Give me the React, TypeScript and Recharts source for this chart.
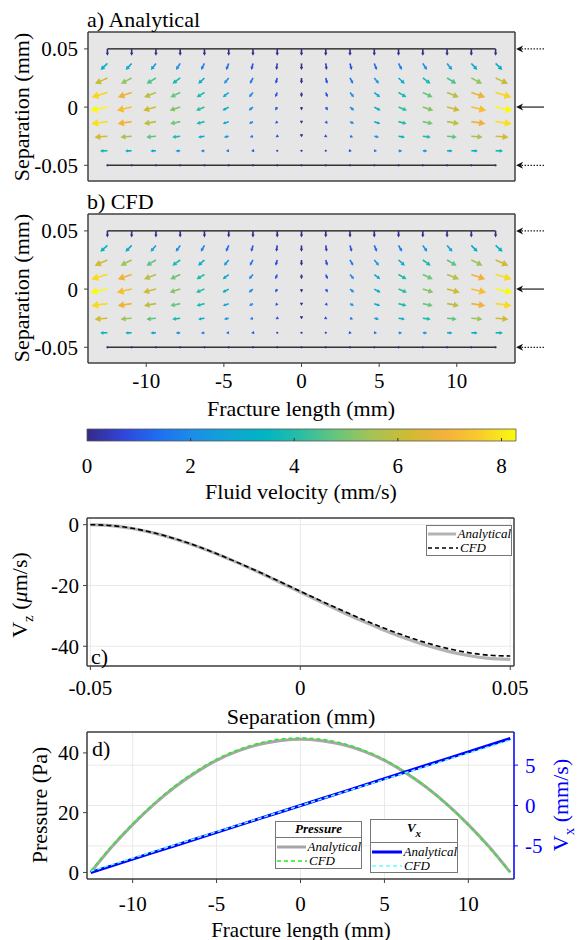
import React from 'react';
import {
  ComposedChart,
  LineChart,
  Line,
  Scatter,
  XAxis,
  YAxis,
  CartesianGrid,
  ReferenceLine,
  ReferenceArea,
  Legend,
} from 'recharts';

const FONT = "'Liberation Serif', Tinos, 'Times New Roman', 'DejaVu Serif', 'Noto Serif', serif";
const W = 577;

// ---- a) / b) velocity field on the fracture grid ----
const gridX = [
  -12.5, -10.9375, -9.375, -7.8125, -6.25, -4.6875, -3.125, -1.5625, 0,
  1.5625, 3.125, 4.6875, 6.25, 7.8125, 9.375, 10.9375, 12.5,
];
const gridY = [0.05, 0.0375, 0.025, 0.0125, 0, -0.0125, -0.025, -0.0375, -0.05];
// centre-line Vx (mm/s) at each column
const centerVx = [
  -8.3, -7.25, -6.2, -5.15, -4.12, -3.09, -2.06, -1.03, 0,
  1.03, 2.06, 3.09, 4.12, 5.15, 6.2, 7.25, 8.28,
];
// Vx across the aperture, relative to the centre line
const profileAnalytical = [0, 0.4, 0.73, 0.93, 1, 0.95, 0.76, 0.44, 0];
const profileCfd = [0, 0.42, 0.75, 0.94, 1, 0.94, 0.75, 0.43, 0];
// Vz (um/s) at each row
const vzRowAnalytical = [-44.3, -42.4, -37.4, -30.3, -22.2, -14.0, -6.9, -1.9, 0];
const vzRowCfd = [-43.2, -41.6, -36.8, -29.9, -22.0, -13.9, -6.9, -1.9, 0];
const wallY = [0.05, -0.05];
const sideArrows = [
  { y: 0.05, dashed: true },
  { y: 0, dashed: false },
  { y: -0.05, dashed: true },
];
const quiverTicksX = [-10, -5, 0, 5, 10];
const separationTicks = [-0.05, 0, 0.05];

// ---- colour bar ----
const colorTicks = [0, 2, 4, 6, 8];
const colorMax = 8.28;
const parula = [
  '#352a87', '#3145d8', '#1e6ff0', '#1b8fe6', '#0fa6d4', '#00b5c2', '#2bbea3',
  '#6ac57b', '#a7c354', '#cfbb32', '#f4b13b', '#f8cc2c', '#f9fb0e',
];

// ---- c) Vz across the aperture ----
const sepX = [
  -0.05, -0.045, -0.04, -0.035, -0.03, -0.025, -0.02, -0.015, -0.01, -0.005, 0,
  0.005, 0.01, 0.015, 0.02, 0.025, 0.03, 0.035, 0.04, 0.045, 0.05,
];
const vzAnalytical = [
  0, -0.32, -1.24, -2.69, -4.61, -6.92, -9.57, -12.48, -15.59, -18.84, -22.15,
  -25.46, -28.71, -31.82, -34.73, -37.38, -39.69, -41.61, -43.06, -43.98, -44.3,
];
const vzCfd = [
  0, -0.3, -1.2, -2.65, -4.55, -6.85, -9.5, -12.4, -15.45, -18.65, -21.9,
  -25.1, -28.25, -31.25, -34.05, -36.6, -38.85, -40.7, -42.1, -42.95, -43.2,
];
const vzTicks = [-40, -20, 0];

// ---- d) pressure and Vx along the fracture ----
const lenX = [
  -12.5, -11.25, -10, -8.75, -7.5, -6.25, -5, -3.75, -2.5, -1.25, 0,
  1.25, 2.5, 3.75, 5, 6.25, 7.5, 8.75, 10, 11.25, 12.5,
];
const pressureAnalytical = [
  0, 8.5, 16.0, 22.7, 28.5, 33.4, 37.5, 40.6, 42.8, 44.1, 44.6,
  44.1, 42.8, 40.6, 37.5, 33.4, 28.5, 22.7, 16.0, 8.5, 0,
];
const pressureCfd = [
  0.4, 8.8, 16.3, 23.0, 28.9, 33.8, 37.9, 41.0, 43.2, 44.6, 45.0,
  44.6, 43.2, 41.0, 37.8, 33.6, 28.5, 22.6, 15.9, 8.3, 0.1,
];
const vxAnalytical = [
  -8.3, -7.47, -6.64, -5.81, -4.98, -4.15, -3.32, -2.49, -1.66, -0.83, 0,
  0.83, 1.66, 2.49, 3.32, 4.15, 4.98, 5.81, 6.64, 7.47, 8.3,
];
const vxCfd = [
  -8.15, -7.33, -6.52, -5.7, -4.89, -4.07, -3.26, -2.44, -1.63, -0.81, 0,
  0.81, 1.62, 2.43, 3.24, 4.05, 4.86, 5.67, 6.48, 7.29, 8.1,
];
const lengthTicks = [-10, -5, 0, 5, 10];
const pressureTicks = [0, 20, 40];
const vxTicks = [-5, 0, 5];

const QUIVER_SCALE = 0.1325; // axis mm per mm/s
const AXIS = '#404040';
const tickStyle = { fill: '#000', fontSize: 21, fontFamily: FONT };
const axisLine = { stroke: AXIS, strokeWidth: 1.5 };

function parulaAt(t: number) {
  const c = Math.max(0, Math.min(1, t)) * (parula.length - 1);
  const i = Math.min(parula.length - 2, Math.floor(c));
  const f = c - i;
  const a = parseInt(parula[i].slice(1), 16);
  const b = parseInt(parula[i + 1].slice(1), 16);
  const mix = (s: number) => Math.round(((a >> s) & 255) * (1 - f) + ((b >> s) & 255) * f);
  return `rgb(${mix(16)},${mix(8)},${mix(0)})`;
}

type Arrow = { x: number; y: number; u: number; v: number; speed: number };

function buildArrows(profile: number[], vzRow: number[]): Arrow[] {
  const out: Arrow[] = [];
  gridY.forEach((y, j) => {
    gridX.forEach((x, i) => {
      const u = centerVx[i] * profile[j];
      const v = vzRow[j] / 1000; // um/s -> mm/s
      out.push({ x, y, u, v, speed: Math.hypot(u, v) });
    });
  });
  return out;
}

const drawArrow = (color: string) => (p: any) => {
  const { x1, y1, x2, y2 } = p;
  const dx = x2 - x1;
  const dy = y2 - y1;
  const len = Math.hypot(dx, dy);
  if (len < 1) return <circle cx={x1} cy={y1} r={1.1} fill={color} />;
  const ux = dx / len;
  const uy = dy / len;
  const h = Math.min(7, Math.max(3, len * 0.45));
  const w = h * 0.55;
  const bx = x2 - ux * h;
  const by = y2 - uy * h;
  return (
    <g>
      <line x1={x1} y1={y1} x2={bx + ux * 0.5} y2={by + uy * 0.5} stroke={color} strokeWidth={1.6} />
      <polygon
        points={`${x2},${y2} ${bx - uy * w},${by + ux * w} ${bx + uy * w},${by - ux * w}`}
        fill={color}
      />
    </g>
  );
};

const drawSideArrow = (dashed: boolean) => (p: any) => {
  const { x1, y1, x2, y2 } = p;
  return (
    <g>
      <line
        x1={x1}
        y1={y1}
        x2={x2 + 5}
        y2={y2}
        stroke={dashed ? '#222' : '#555'}
        strokeWidth={dashed ? 1.2 : 1.6}
        strokeDasharray={dashed ? '1.5 1.5' : undefined}
      />
      <polygon points={`${x2},${y2} ${x2 + 7},${y2 - 3.5} ${x2 + 5},${y2} ${x2 + 7},${y2 + 3.5}`} fill="#111" />
    </g>
  );
};

const fmt = (v: number) => (v === 0 ? '0' : String(v));

function QuiverPanel({ arrows, top, height, showX }: { arrows: Arrow[]; top: number; height: number; showX: boolean }) {
  // plot box: 88..515 px across, 32..181 px down (relative to this chart)
  return (
    <div style={{ position: 'absolute', left: 0, top }}>
      <ComposedChart width={W} height={height} margin={{ top: 31, right: 61, bottom: height - 181 - 10, left: 28 }}>
        <CartesianGrid fill="#e6e6e6" horizontal={false} vertical={false} />
        <XAxis
          type="number"
          dataKey="x"
          domain={[-13.75, 13.75]}
          ticks={quiverTicksX}
          allowDataOverflow
          height={10}
          tickSize={4}
          tickMargin={6}
          tick={showX ? tickStyle : false}
          axisLine={axisLine}
          tickLine={{ stroke: AXIS }}
        />
        <XAxis
          xAxisId="top"
          orientation="top"
          type="number"
          domain={[-13.75, 13.75]}
          ticks={quiverTicksX}
          allowDataOverflow
          height={1}
          tickSize={4}
          tick={false}
          axisLine={axisLine}
          tickLine={{ stroke: AXIS }}
        />
        <YAxis
          type="number"
          dataKey="y"
          domain={[-0.0635, 0.0645]}
          ticks={separationTicks}
          allowDataOverflow
          width={60}
          tickSize={4}
          tickMargin={6}
          tick={tickStyle}
          tickFormatter={fmt}
          axisLine={axisLine}
          tickLine={{ stroke: AXIS }}
        />
        <YAxis
          yAxisId="right"
          orientation="right"
          type="number"
          domain={[-0.0635, 0.0645]}
          ticks={separationTicks}
          allowDataOverflow
          width={1}
          tickSize={4}
          tick={false}
          axisLine={axisLine}
          tickLine={{ stroke: AXIS }}
        />
        <Scatter data={arrows} dataKey="y" shape={() => <g />} isAnimationActive={false} legendType="none" />
        {wallY.map((y) => (
          <ReferenceLine
            key={`w${y}`}
            segment={[
              { x: gridX[0], y },
              { x: gridX[gridX.length - 1], y },
            ]}
            stroke={y > 0 ? '#111' : '#333'}
            strokeWidth={1.4}
            ifOverflow="visible"
          />
        ))}
        {arrows.map((a, k) => (
          <ReferenceLine
            key={k}
            segment={[
              { x: a.x, y: a.y },
              { x: a.x + a.u * QUIVER_SCALE, y: a.y + a.v * QUIVER_SCALE },
            ]}
            ifOverflow="visible"
            shape={drawArrow(parulaAt(a.speed / colorMax))}
          />
        ))}
        {sideArrows.map((s) => (
          <ReferenceLine
            key={`s${s.y}`}
            segment={[
              { x: 15.62, y: s.y },
              { x: 13.82, y: s.y },
            ]}
            ifOverflow="visible"
            shape={drawSideArrow(s.dashed)}
          />
        ))}
      </ComposedChart>
    </div>
  );
}

function Txt({
  x,
  y,
  size = 22,
  rotate = false,
  left = false,
  color = '#000',
  children,
}: {
  x: number;
  y: number;
  size?: number;
  rotate?: boolean;
  left?: boolean;
  color?: string;
  children: React.ReactNode;
}) {
  const tr = left ? 'translate(0,-50%)' : `translate(-50%,-50%)${rotate ? ' rotate(-90deg)' : ''}`;
  return (
    <div
      style={{
        position: 'absolute',
        left: x,
        top: y,
        transform: tr,
        fontFamily: FONT,
        fontSize: size,
        color,
        whiteSpace: 'nowrap',
        lineHeight: 1,
      }}
    >
      {children}
    </div>
  );
}

function Sample({ color, width, dash }: { color: string; width: number; dash?: string }) {
  return (
    <svg width={30} height={8} style={{ display: 'block', marginRight: 2 }}>
      <line x1={0} y1={4} x2={30} y2={4} stroke={color} strokeWidth={width} strokeDasharray={dash} />
    </svg>
  );
}

function Entry({ color, width, dash, label }: { color: string; width: number; dash?: string; label: string }) {
  return (
    <div style={{ display: 'flex', alignItems: 'center', height: 14, paddingLeft: 1 }}>
      <Sample color={color} width={width} dash={dash} />
      <span>{label}</span>
    </div>
  );
}

const legendFont = { fontFamily: FONT, fontStyle: 'italic' as const, fontSize: 13, lineHeight: '14px', color: '#000' };

function LegendC() {
  return (
    <div style={{ ...legendFont, width: 86, height: 31, border: '1.3px solid #777', background: '#fff', paddingTop: 1, boxSizing: 'border-box' }}>
      <Entry color="#b3b3b3" width={3} label="Analytical" />
      <Entry color="#000" width={1.6} dash="4 3" label="CFD" />
    </div>
  );
}

function LegendD() {
  return (
    <div style={{ ...legendFont, display: 'flex', alignItems: 'flex-start' }}>
      <div style={{ width: 87, height: 48, marginTop: 2, border: '1.3px solid #777', background: '#fff', boxSizing: 'border-box' }}>
        <div style={{ height: 15, borderBottom: '1.3px solid #777', textAlign: 'center', fontWeight: 'bold' }}>Pressure</div>
        <div style={{ paddingTop: 2 }}>
          <Entry color="#a6a6a6" width={3} label="Analytical" />
          <Entry color="#22ee22" width={1.5} dash="4 3" label="CFD" />
        </div>
      </div>
      <div style={{ width: 88, height: 54, marginLeft: 8, border: '1.3px solid #777', background: '#fff', boxSizing: 'border-box' }}>
        <div style={{ height: 22, borderBottom: '1.3px solid #777', textAlign: 'center', fontWeight: 'bold', lineHeight: '16px' }}>
          V<sub style={{ fontSize: 11, verticalAlign: '-5px' }}>x</sub>
        </div>
        <div style={{ paddingTop: 2 }}>
          <Entry color="#0000ff" width={3} label="Analytical" />
          <Entry color="#66ffff" width={1.5} dash="4 3" label="CFD" />
        </div>
      </div>
    </div>
  );
}

export default function App() {
  const arrowsA = buildArrows(profileAnalytical, vzRowAnalytical);
  const arrowsB = buildArrows(profileCfd, vzRowCfd);
  const vzData = sepX.map((s, i) => ({ s, a: vzAnalytical[i], c: vzCfd[i] }));
  const lenData = lenX.map((x, i) => ({
    x,
    pa: pressureAnalytical[i],
    pc: pressureCfd[i],
    va: vxAnalytical[i],
    vc: vxCfd[i],
  }));
  const barData = colorTicks.map((v) => ({ v, y: 0.5 }));

  return (
    <div style={{ position: 'absolute', left: 0, top: 0, width: W, height: 940, overflow: 'hidden', background: '#fff' }}>
      {/* a) analytical field */}
      <QuiverPanel arrows={arrowsA} top={0} height={195} showX={false} />
      <Txt x={87} y={19.5} left>a) Analytical</Txt>
      <Txt x={22} y={107} rotate>Separation (mm)</Txt>

      {/* b) CFD field */}
      <QuiverPanel arrows={arrowsB} top={182} height={215} showX />
      <Txt x={87} y={201.5} left>b) CFD</Txt>
      <Txt x={22} y={288} rotate>Separation (mm)</Txt>
      <Txt x={301} y={409}>Fracture length (mm)</Txt>

      {/* colour bar */}
      <div style={{ position: 'absolute', left: 0, top: 420 }}>
        <ComposedChart width={W} height={70} margin={{ top: 9, right: 61, bottom: 19, left: 87 }}>
          <defs>
            <linearGradient id="parulaBar" x1="0" y1="0" x2="1" y2="0">
              {parula.map((c, i) => (
                <stop key={c} offset={i / (parula.length - 1)} stopColor={c} />
              ))}
            </linearGradient>
          </defs>
          <XAxis
            type="number"
            dataKey="v"
            domain={[0, colorMax]}
            ticks={colorTicks}
            allowDataOverflow
            height={30}
            tickSize={0}
            tickMargin={17}
            tickLine={false}
            axisLine={false}
            tick={tickStyle}
          />
          <YAxis type="number" dataKey="y" domain={[0, 1]} hide />
          <Scatter data={barData} dataKey="y" shape={() => <g />} isAnimationActive={false} legendType="none" />
          <ReferenceArea x1={0} x2={colorMax} y1={0} y2={1} fill="url(#parulaBar)" fillOpacity={1} stroke="#555" strokeWidth={0.8} ifOverflow="visible" />
          {colorTicks.slice(1).map((v) => (
            <ReferenceLine
              key={v}
              segment={[
                { x: v, y: 0 },
                { x: v, y: 0.25 },
              ]}
              stroke="#333"
              strokeWidth={1}
            />
          ))}
        </ComposedChart>
      </div>
      <Txt x={301} y={492}>Fluid velocity (mm/s)</Txt>

      {/* c) Vz */}
      <div style={{ position: 'absolute', left: 0, top: 505 }}>
        <LineChart width={W} height={225} data={vzData} margin={{ top: 12, right: 62, bottom: 29, left: 27 }}>
          <CartesianGrid stroke="#e9e9e9" />
          <XAxis
            type="number"
            dataKey="s"
            domain={[-0.0508, 0.0509]}
            ticks={separationTicks}
            allowDataOverflow
            height={35}
            tickSize={4}
            tickMargin={10}
            tick={tickStyle}
            tickFormatter={fmt}
            axisLine={axisLine}
            tickLine={{ stroke: AXIS }}
          />
          <XAxis
            xAxisId="top"
            orientation="top"
            type="number"
            domain={[-0.0508, 0.0509]}
            ticks={separationTicks}
            allowDataOverflow
            height={1}
            tickSize={4}
            tick={false}
            axisLine={axisLine}
            tickLine={{ stroke: AXIS }}
          />
          <YAxis
            type="number"
            domain={[-46.5, 2.2]}
            ticks={vzTicks}
            allowDataOverflow
            width={60}
            tickSize={4}
            tickMargin={4}
            tick={tickStyle}
            axisLine={axisLine}
            tickLine={{ stroke: AXIS }}
          />
          <YAxis
            yAxisId="r"
            orientation="right"
            type="number"
            domain={[-46.5, 2.2]}
            ticks={vzTicks}
            allowDataOverflow
            width={1}
            tickSize={4}
            tick={false}
            axisLine={axisLine}
            tickLine={{ stroke: AXIS }}
          />
          <Line type="monotone" dataKey="a" stroke="#b3b3b3" strokeWidth={3.2} dot={false} isAnimationActive={false} />
          <Line type="monotone" dataKey="c" stroke="#000" strokeWidth={1.6} strokeDasharray="5 3" dot={false} isAnimationActive={false} />
          <Legend
            layout="vertical"
            align="center"
            verticalAlign="middle"
            wrapperStyle={{ left: 426, top: 20, width: 88 }}
            content={() => <LegendC />}
          />
        </LineChart>
      </div>
      <Txt x={91} y={657} left>c)</Txt>
      <Txt x={22} y={595} rotate>
        V<sub style={{ fontSize: 15, verticalAlign: '-6px' }}>z</sub> (<span style={{ fontStyle: 'italic' }}>μ</span>m/s)
      </Txt>
      <Txt x={301} y={717}>Separation (mm)</Txt>

      {/* d) pressure and Vx */}
      <div style={{ position: 'absolute', left: 0, top: 722 }}>
        <ComposedChart width={W} height={218} data={lenData} margin={{ top: 9, right: 62, bottom: 21, left: 27 }}>
          <CartesianGrid stroke="#e9e9e9" yAxisId="vx" />
          <XAxis
            type="number"
            dataKey="x"
            domain={[-12.72, 12.72]}
            ticks={lengthTicks}
            allowDataOverflow
            height={40}
            tickSize={4}
            tickMargin={13}
            tick={tickStyle}
            axisLine={axisLine}
            tickLine={{ stroke: AXIS }}
          />
          <XAxis
            xAxisId="top"
            orientation="top"
            type="number"
            domain={[-12.72, 12.72]}
            ticks={lengthTicks}
            allowDataOverflow
            height={1}
            tickSize={4}
            tick={false}
            axisLine={axisLine}
            tickLine={{ stroke: AXIS }}
          />
          <YAxis
            yAxisId="p"
            type="number"
            domain={[-2.2, 47]}
            ticks={pressureTicks}
            allowDataOverflow
            width={60}
            tickSize={4}
            tickMargin={4}
            tick={tickStyle}
            axisLine={axisLine}
            tickLine={{ stroke: AXIS }}
          />
          <YAxis
            yAxisId="vx"
            orientation="right"
            type="number"
            domain={[-9.1, 9.1]}
            ticks={vxTicks}
            allowDataOverflow
            width={1}
            tickSize={4}
            tickMargin={7}
            tick={{ ...tickStyle, fill: '#0000ff' }}
            axisLine={{ stroke: '#0000ff', strokeWidth: 1.5 }}
            tickLine={{ stroke: '#0000ff' }}
          />
          <Line yAxisId="p" type="monotone" dataKey="pa" stroke="#a6a6a6" strokeWidth={3} dot={false} isAnimationActive={false} />
          <Line yAxisId="p" type="monotone" dataKey="pc" stroke="#22ee22" strokeWidth={1.5} strokeDasharray="4 3" dot={false} isAnimationActive={false} />
          <Line yAxisId="vx" type="linear" dataKey="va" stroke="#0000ff" strokeWidth={3} dot={false} isAnimationActive={false} />
          <Line yAxisId="vx" type="linear" dataKey="vc" stroke="#66ffff" strokeWidth={1.5} strokeDasharray="4 3" dot={false} isAnimationActive={false} />
          <Legend
            layout="vertical"
            align="center"
            verticalAlign="middle"
            wrapperStyle={{ left: 275, top: 97, width: 190 }}
            content={() => <LegendD />}
          />
        </ComposedChart>
      </div>
      <Txt x={92} y={749} left>d)</Txt>
      <Txt x={40} y={805} rotate>Pressure (Pa)</Txt>
      <Txt x={563} y={805} rotate color="#0000ff">
        V<sub style={{ fontSize: 15, verticalAlign: '-6px' }}>x</sub> (mm/s)
      </Txt>
      <Txt x={301} y={930} size={21}>Fracture length (mm)</Txt>
    </div>
  );
}
